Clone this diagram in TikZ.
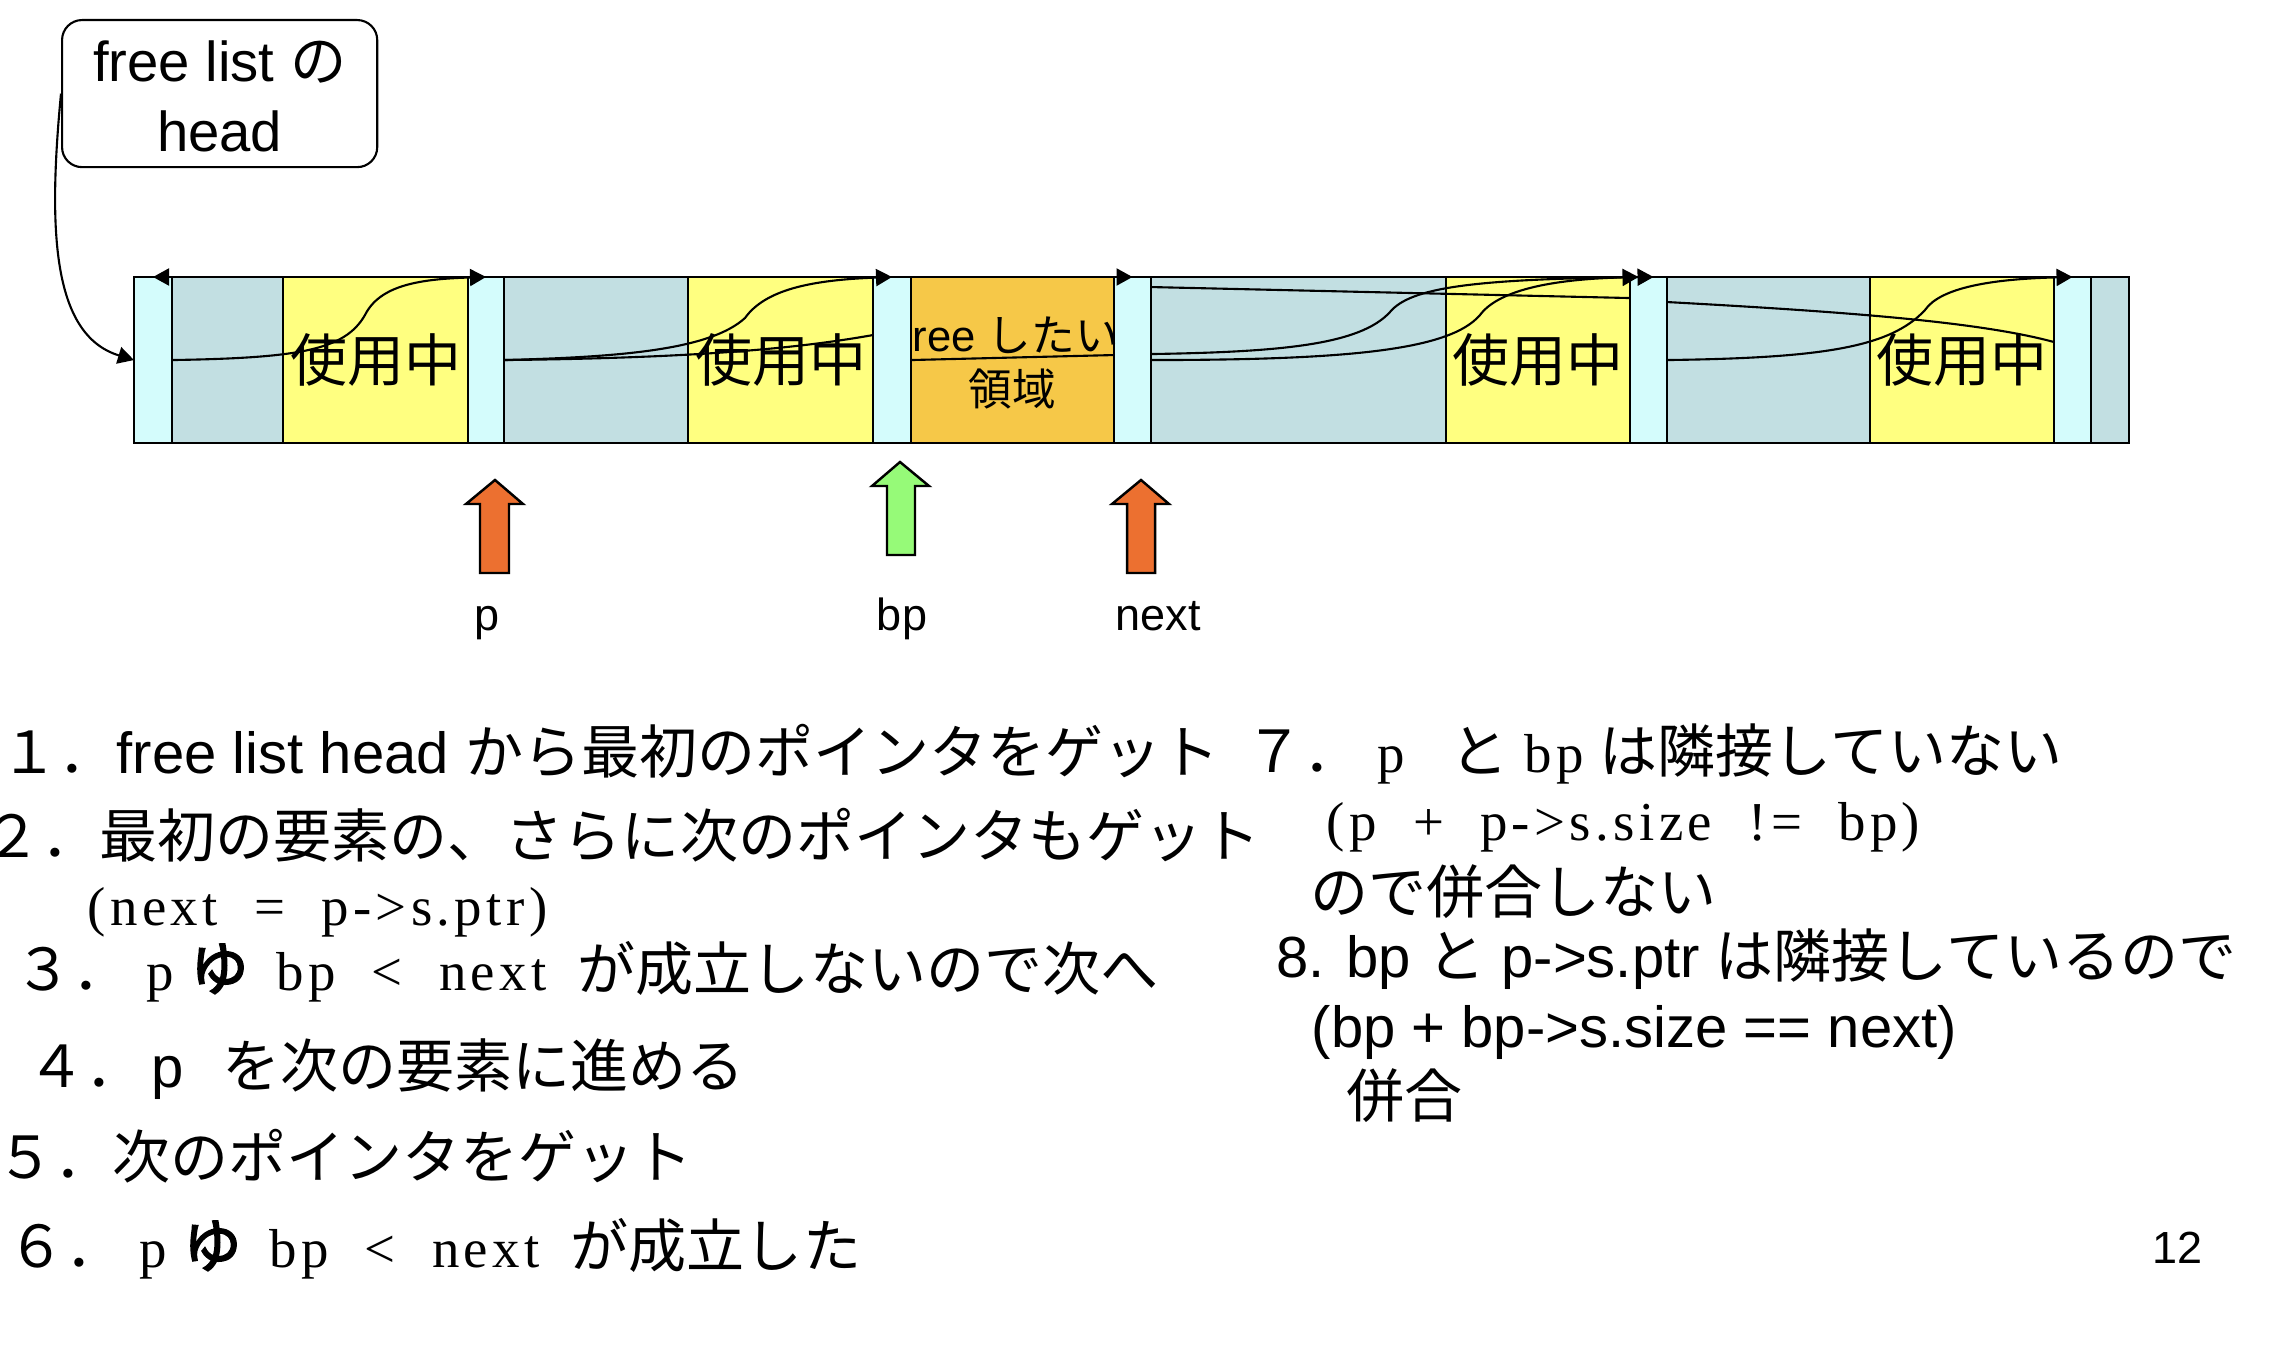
\documentclass[tikz,border=0pt]{standalone}
\usepackage{fontspec}
\setmainfont{Liberation Sans}
\newfontfamily\jpf{Noto Sans CJK JP}
\newfontfamily\jpbf{Noto Sans CJK JP}[FakeBold=3]
\newfontfamily\codef{Liberation Serif}[LetterSpace=8,WordSpace=2]
\usetikzlibrary{arrows.meta,calc}
\newcommand\jtxt[1]{{\jpf #1}}
\newcommand\ctxt[1]{{\codef\fontsize{15.6}{19}\selectfont #1}}
\newcommand\mainsz{\fontsize{16.5}{20}\selectfont}
\definecolor{hdr}{RGB}{212,252,252}
\definecolor{gry}{RGB}{194,223,226}
\definecolor{ylw}{RGB}{255,255,128}
\definecolor{org}{RGB}{246,200,72}
\definecolor{arrO}{RGB}{236,112,48}
\definecolor{arrG}{RGB}{150,250,120}
\begin{document}
\begin{tikzpicture}[x=0.01cm, y=-0.01cm,
  blk/.style={draw, line width=0.7pt, minimum height=1.66cm, inner sep=0pt, outer sep=0pt, anchor=north west},
  hb/.style={blk, fill=hdr},
  gb/.style={blk, fill=gry},
  yb/.style={blk, fill=ylw, font=\jpf\fontsize{16.2}{19}\selectfont},
  ptr/.style={line width=0.6pt, -{Triangle[length=0.16cm,width=0.17cm]}},
  plain/.style={line width=0.6pt},
  txt/.style={anchor=base west, inner sep=0pt, font=\mainsz},
  lbl/.style={anchor=base, inner sep=0pt, font=\fontsize{12.8}{15}\selectfont},
  barr/.style={draw, line width=0.7pt}]
\useasboundingbox (0,0) rectangle (2286,1346);

% head box
\node[draw, line width=0.6pt, rounded corners=0.2cm, minimum width=3.15cm, minimum height=1.47cm,
      anchor=north west, align=center, inner sep=0pt,
      font=\fontsize{16}{19.9}\selectfont] (head) at (61,19)
      {\rule{0pt}{0.47cm}free list \jtxt{の}\\head};

% memory bar
\node[gb, minimum width=1.11cm] (g1) at (172,277) {};
\node[yb, minimum width=1.85cm] (y1) at (283,277) {使用中};
\node[gb, minimum width=1.84cm] (g2) at (504,277) {};
\node[yb, minimum width=1.85cm] (y2) at (688,277) {使用中};
\node[blk, fill=org, minimum width=2.03cm] (o1) at (911,277) {};
\node[gb, minimum width=2.95cm] (g3) at (1151,277) {};
\node[yb, minimum width=1.84cm] (y3) at (1446,277) {使用中};
\node[gb, minimum width=2.03cm] (g4) at (1667,277) {};
\node[yb, minimum width=1.84cm] (y4) at (1870,277) {使用中};
\node[gb, minimum width=0.38cm] (g5) at (2091,277) {};
\node[hb, minimum width=0.38cm] (h1) at (134,277) {};
\node[hb, minimum width=0.36cm] (h2) at (468,277) {};
\node[hb, minimum width=0.38cm] (h3) at (873,277) {};
\node[hb, minimum width=0.37cm] (h4) at (1114,277) {};
\node[hb, minimum width=0.37cm] (h5) at (1630,277) {};
\node[hb, minimum width=0.37cm] (h6) at (2054,277) {};

\node[anchor=base west, inner sep=0pt, font=\fontsize{12.4}{14}\selectfont] (ft1) at (912,352) {ree \jtxt{したい}};
\node[anchor=base, inner sep=0pt, font=\jpf\fontsize{12.4}{14}\selectfont] (ft2) at (1012,405) {領域};

% pointers
\draw[ptr] (head.west) .. controls (48,230) and (52,335) .. (h1.west);
\draw[ptr] (h1.east) .. controls (300,358) and (345,350) .. (365,315) .. controls (380,285) and (420,279) .. (h2.north);
\draw[ptr] (h2.east) .. controls (620,357) and (710,350) .. (745,318) .. controls (765,290) and (810,280) .. (h3.north);
\draw[plain] (h2.east) .. controls (700,358) and (800,348) .. ($(h3.west)+(0,-25)$);
\draw[plain] (h3.east) -- ($(h4.west)+(0,-5)$);
\draw[ptr] ($(h4.east)+(0,-6)$) .. controls (1280,352) and (1360,345) .. (1390,312) .. controls (1410,288) and (1470,279) .. ($(h5.north)+(5,0)$);
\draw[ptr] (h4.east) .. controls (1350,360) and (1450,350) .. (1480,315) .. controls (1500,288) and (1560,279) .. ($(h5.north)+(-10,0)$);
\draw[plain] ($(h4.east)+(0,-73)$) -- ($(h5.west)+(0,-62)$);
\draw[plain] ($(h5.east)+(0,-58)$) .. controls (1850,312) and (1980,322) .. ($(h6.west)+(0,-18)$);
\draw[ptr] (h5.east) .. controls (1820,358) and (1890,348) .. (1925,310) .. controls (1940,288) and (1990,279) .. (h6.north);
\draw[ptr] (h3.north east) -- (h4.north);
\coordinate (wrap) at (235,277);
\draw[ptr] (wrap) -- (h1.north);

% block arrows
\draw[barr, fill=arrO] (480,573) -- (480,504) -- (466,504) -- (495,480) -- (523,504) -- (509,504) -- (509,573) -- cycle;
\draw[barr, fill=arrG] (887,555) -- (887,486) -- (872,486) -- (900,462) -- (929,486) -- (915,486) -- (915,555) -- cycle;
\draw[barr, fill=arrO] (1127,573) -- (1127,504) -- (1112,504) -- (1141,480) -- (1169,504) -- (1155,504) -- (1155,573) -- cycle;
\node[lbl] (lp) at (487,630) {p};
\node[lbl] (lbp) at (902,630) {bp};
\node[lbl] (lnext) at (1158,630) {next};

% explanation text
\node[txt] (l1) at (0,773) {\jtxt{１．}free list head \jtxt{から最初のポインタをゲット}};
\node[txt] (l2) at (-17,857) {\jtxt{２．最初の要素の、さらに次のポインタもゲット}};
\node[txt] (l2b) at (87,925) {\ctxt{(next = p->s.ptr)}};
\node[txt] (l3) at (14,990) {\jtxt{３．} \ctxt{p} {\jpbf ゆ}\hspace{0.12cm} \ctxt{bp < next}\hspace{0.15cm} \jtxt{が成立しないので次へ}};
\node[txt] (l4) at (27,1087) {\jtxt{４．}\hspace{0.08cm}p\hspace{0.22cm} \jtxt{を次の要素に進める}};
\node[txt] (l5) at (-4,1178) {\jtxt{５．次のポインタをゲット}};
\node[txt] (l6) at (7,1267) {\jtxt{６．} \ctxt{p} {\jpbf ゆ}\hspace{0.12cm} \ctxt{bp < next}\hspace{0.15cm} \jtxt{が成立した}};

\node[txt] (r1) at (1245,772) {\jtxt{７．} \ctxt{p}\hspace{0.45cm}\jtxt{と} \ctxt{bp} \jtxt{は隣接していない}};
\node[txt] (r2) at (1326,840) {\ctxt{(p + p->s.size != bp)}};
\node[txt] (r3) at (1310,913) {\jtxt{ので併合しない}};
\node[txt] (r4) at (1276,977) {8. bp \jtxt{と} p->s.ptr \jtxt{は隣接しているので}};
\node[txt] (r5) at (1311,1047) {(bp + bp->s.size == next)};
\node[txt] (r6) at (1346,1117) {\jtxt{併合}};

\node[lbl] (pg) at (2177,1263) {12};
\end{tikzpicture}
\end{document}
